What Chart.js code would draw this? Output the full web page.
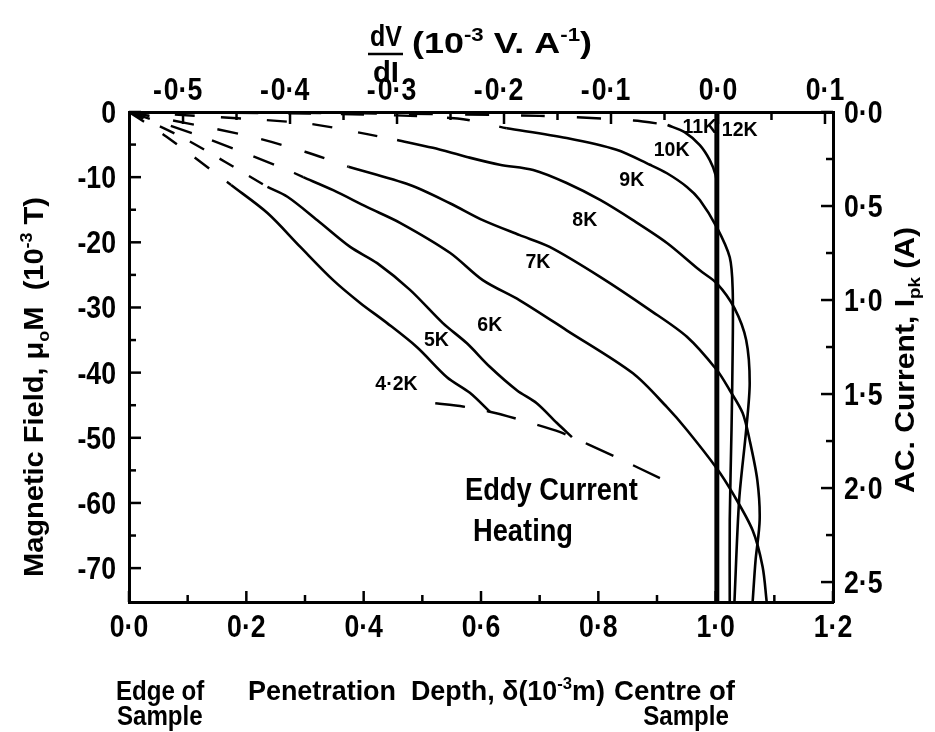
<!DOCTYPE html>
<html><head><meta charset="utf-8">
<script src="https://cdn.jsdelivr.net/npm/chart.js@4"></script>
<style>html,body{margin:0;padding:0;background:#fff}</style>
</head><body>
<canvas id="c" width="935" height="732"></canvas>
<script>
// ---------- tick values ----------
const X_TICKS = [0, 0.2, 0.4, 0.6, 0.8, 1.0, 1.2];
const X_MINOR = [0.1, 0.3, 0.5, 0.7, 0.9, 1.1];
const TOP_TICKS = [-0.5, -0.4, -0.3, -0.2, -0.1, 0.0, 0.1];
const TOP_MINOR = [-0.45, -0.35, -0.25, -0.15, -0.05, 0.05];
const Y_TICKS = [0, -10, -20, -30, -40, -50, -60, -70];
const Y_MINOR = [-5, -15, -25, -35, -45, -55, -65];
const R_TICKS = [0, 0.5, 1.0, 1.5, 2.0, 2.5];
const R_MINOR = [0.25, 0.75, 1.25, 1.75, 2.25];

// ---------- curves: [penetration depth (1e-3 m), field (1e-3 T)] ----------
const DASH_42 = [[0,0],[0.064,-3.8],[0.174,-11.2]];
const SOLID_42 = [[0.174,-11.2],[0.236,-15.5],[0.292,-20.7],[0.348,-25.8],[0.394,-29.3],[0.440,-32.4],[0.491,-36.1],[0.542,-40.7],[0.581,-43.1],[0.615,-46.0]];
const DASH_5 = [[0,0],[0.093,-4.0],[0.236,-11.5]];
const SOLID_5 = [[0.236,-11.5],[0.270,-13.0],[0.321,-16.6],[0.377,-20.7],[0.423,-23.2],[0.479,-27.3],[0.535,-32.4],[0.576,-35.5],[0.615,-39.1],[0.661,-42.7],[0.695,-44.7],[0.729,-47.7],[0.755,-49.9]];
const DASH_6 = [[0,0],[0.125,-3.8],[0.266,-8.75],[0.297,-10.0]];
const SOLID_6 = [[0.297,-10.0],[0.348,-12.0],[0.406,-14.6],[0.462,-17.0],[0.547,-21.6],[0.603,-25.8],[0.666,-28.9],[0.746,-33.5],[0.859,-40.1],[0.917,-45.3],[0.951,-48.8],[1.002,-54.7],[1.029,-58.5],[1.063,-64.2],[1.080,-69.8],[1.087,-75.2]];
const DASH_7 = [[0,0],[0.195,-3.5],[0.300,-6.1],[0.374,-8.4]];
const SOLID_7 = [[0.374,-8.4],[0.479,-11.2],[0.547,-14.0],[0.603,-16.6],[0.666,-18.9],[0.717,-20.7],[0.803,-25.3],[0.888,-30.4],[0.951,-34.5],[1.002,-39.6],[1.024,-42.7],[1.046,-46.2],[1.058,-50.4],[1.071,-56.5],[1.075,-62.6],[1.068,-68.8],[1.063,-75.2]];
const DASH_8 = [[0,0],[0.297,-1.7],[0.406,-3.4],[0.457,-4.3]];
const SOLID_8 = [[0.457,-4.3],[0.518,-5.5],[0.576,-6.9],[0.632,-8.1],[0.689,-8.9],[0.746,-10.9],[0.803,-13.5],[0.859,-16.6],[0.917,-20.1],[0.973,-24.3],[1.002,-26.3],[1.032,-30.1],[1.052,-35.0],[1.058,-41.6],[1.052,-48.8],[1.040,-59.6],[1.032,-75.2]];
const DASH_9 = [[0,0],[0.35,-0.3],[0.56,-1.0],[0.644,-2.5]];
const SOLID_9 = [[0.644,-2.5],[0.746,-4.0],[0.831,-5.8],[0.888,-8.1],[0.917,-9.4],[0.951,-11.5],[0.973,-13.5],[1.002,-17.7],[1.024,-22.3],[1.029,-27.3],[1.029,-36.5],[1.027,-48.8],[1.024,-62.6],[1.024,-75.2]];
const DASH_10 = [[0,0],[0.4,-0.2],[0.7,-0.6],[0.86,-1.3],[0.918,-2.0]];
const SOLID_10 = [[0.918,-2.0],[0.947,-3.1],[0.973,-5.1],[0.990,-7.4],[1.000,-9.7],[1.003,-12.0],[1.003,-75.2]];
const SOLID_11 = [[1.000,0],[1.000,-75.2]];
const SOLID_12 = [[1.004,0],[1.004,-75.2]];
const EDDY_LIMIT = [[0.522,-44.7],[0.569,-45.2],[0.615,-46.0],[0.646,-46.7],[0.734,-49.1],[0.831,-53.0],[0.905,-56.2]];

// ---------- curve labels ----------
const CURVE_NAMES = ['4·2K','5K','6K','7K','8K','9K','10K','11K','12K'];
const CURVE_NAME_X = [0.456,0.524,0.615,0.697,0.777,0.857,0.925,0.973,1.041];
const CURVE_NAME_Y = [-41.4,-34.7,-32.4,-22.7,-16.3,-10.1,-5.5,-2.0,-2.5];

const FAM = "'Liberation Sans', Arial, sans-serif";
const dot = s => s.replace('.', '·');
const pts = a => a.map(p => ({x: p[0], y: p[1]}));
const solid = a => ({data: pts(a), showLine: true, pointRadius: 0, borderColor: '#000', borderWidth: 2.6, tension: 0.3, fill: false});
const dashed = (a, d) => Object.assign(solid(a), {borderDash: d || [20, 21], borderWidth: 2.4});

const datasets = [
  dashed(DASH_42, [18, 22]), solid(SOLID_42), dashed(DASH_5, [16, 18]), solid(SOLID_5),
  dashed(DASH_6, [22, 22]), solid(SOLID_6), dashed(DASH_7, [21, 24]), solid(SOLID_7),
  dashed(DASH_8, [20, 26]), solid(SOLID_8), dashed(DASH_9, [23, 30]), solid(SOLID_9),
  dashed(DASH_10, [24, 32]), solid(SOLID_10), solid(SOLID_11), solid(SOLID_12),
  Object.assign(dashed(EDDY_LIMIT, [30, 22.2]), {tension: 0.2})
];

// text helper: parts = [[text, mode]] mode 0 normal, 1 superscript, -1 subscript
function txt(ctx, parts, x, y, o) {
  if (typeof parts === 'string') parts = [[parts, 0]];
  const size = o.size;
  ctx.save();
  ctx.translate(x, y); ctx.rotate(o.rot || 0);
  ctx.fillStyle = '#000'; ctx.textAlign = 'left'; ctx.textBaseline = 'alphabetic';
  const f = s => `bold ${s}px ${FAM}`;
  const ws = parts.map(([t, m]) => { ctx.font = f(m ? size * 0.62 : size); return ctx.measureText(t).width; });
  const tot = ws.reduce((a, b) => a + b, 0);
  const sx = o.width ? o.width / tot : (o.sx || 1);
  ctx.scale(sx, 1);
  let cx = o.align === 'center' ? -tot / 2 : o.align === 'right' ? -tot : 0;
  parts.forEach(([t, m], i) => {
    ctx.font = f(m ? size * 0.62 : size);
    ctx.fillText(t, cx, m === 1 ? -size * 0.40 : m === -1 ? size * 0.2 : 0);
    cx += ws[i];
  });
  ctx.restore();
}

const decor = {
  id: 'decor',
  afterDraw(chart) {
    const {ctx, chartArea: a, scales} = chart;
    const {x, x2, y, y2} = scales;
    ctx.save();
    ctx.strokeStyle = '#000'; ctx.lineWidth = 2.5;
    const seg = (p, q, r, s) => { ctx.beginPath(); ctx.moveTo(p, q); ctx.lineTo(r, s); ctx.stroke(); };
    X_TICKS.forEach(v => { const p = x.getPixelForValue(v); seg(p, a.bottom, p, a.bottom - 11); });
    X_MINOR.forEach(v => { const p = x.getPixelForValue(v); seg(p, a.bottom, p, a.bottom - 7); });
    TOP_TICKS.forEach(v => { const p = x2.getPixelForValue(v); seg(p, a.top, p, a.top + 12); });
    TOP_MINOR.forEach(v => { const p = x2.getPixelForValue(v); seg(p, a.top, p, a.top + 8); });
    Y_TICKS.forEach(v => { const p = y.getPixelForValue(v); seg(a.left, p, a.left + 12, p); });
    Y_MINOR.forEach(v => { const p = y.getPixelForValue(v); seg(a.left, p, a.left + 7, p); });
    R_TICKS.forEach(v => { const p = y2.getPixelForValue(v); seg(a.right, p, a.right - 12, p); });
    R_MINOR.forEach(v => { const p = y2.getPixelForValue(v); seg(a.right, p, a.right - 7, p); });

    // tick labels
    const TS = 31, SX = 0.86;
    X_TICKS.forEach(v => txt(ctx, dot(v.toFixed(1)), x.getPixelForValue(v), a.bottom + 35, {size: TS, sx: SX, align: 'center'}));
    TOP_TICKS.forEach(v => {
      const p = x2.getPixelForValue(v);
      const num = dot(Math.abs(v).toFixed(1));
      ctx.font = `bold ${TS}px ${FAM}`;
      const w = ctx.measureText(num).width * SX;
      txt(ctx, num, p, a.top - 12, {size: TS, sx: SX, align: 'center'});
      if (v < -1e-9) txt(ctx, '-', p - w / 2 - 2, a.top - 12, {size: TS, sx: SX, align: 'right'});
    });
    Y_TICKS.forEach(v => txt(ctx, String(v), a.left - 13, y.getPixelForValue(v) + 11, {size: TS, sx: SX, align: 'right'}));
    R_TICKS.forEach(v => txt(ctx, dot(v.toFixed(1)), a.right + 11, y2.getPixelForValue(v) + 11, {size: TS, sx: SX, align: 'left'}));

    // curve labels
    CURVE_NAMES.forEach((t, i) => txt(ctx, t, x.getPixelForValue(CURVE_NAME_X[i]), y.getPixelForValue(CURVE_NAME_Y[i]) + 8, {size: 21, sx: 0.93, align: 'center'}));
    txt(ctx, 'Eddy Current', 465, 500, {size: 31, sx: 0.88, align: 'left'});
    txt(ctx, 'Heating', 473, 541, {size: 31, sx: 0.88, align: 'left'});

    // axis titles
    const TT = 28, TSX = 0.86;
    txt(ctx, [['Magnetic Field, μ', 0], ['o', -1], ['M  (10', 0], ['-3', 1], [' T)', 0]], 43, 387, {size: TT, width: 380, align: 'center', rot: -Math.PI / 2});
    txt(ctx, [['AC. Current, I', 0], ['pk', -1], [' (A)', 0]], 914, 360, {size: TT, width: 266, align: 'center', rot: -Math.PI / 2});
    txt(ctx, [['Penetration  Depth, δ(10', 0], ['-3', 1], ['m)', 0]], 248, 700, {size: TT, width: 357, align: 'left'});
    txt(ctx, 'Edge of', 116, 700, {size: TT, sx: TSX, align: 'left'});
    txt(ctx, 'Sample', 117, 725, {size: TT, sx: TSX, align: 'left'});
    txt(ctx, 'Centre of', 614, 700, {size: TT, width: 121, align: 'left'});
    txt(ctx, 'Sample', 686, 725, {size: TT, sx: TSX, align: 'center'});
    // top fraction title
    txt(ctx, 'dV', 386, 46, {size: 29, width: 32, align: 'center'});
    ctx.lineWidth = 2.5; seg(368, 54, 403, 54);
    txt(ctx, 'dI', 386, 82, {size: 29, width: 26, align: 'center'});
    txt(ctx, [['(10', 0], ['-3', 1], [' V. A', 0], ['-1', 1], [')', 0]], 412, 53, {size: 29, width: 180, align: 'left'});
    ctx.restore();
  }
};

const axisBase = (extra) => Object.assign({
  type: 'linear',
  grid: {display: false, drawTicks: false},
  border: {display: true, color: '#000', width: 3},
  ticks: {display: false}
}, extra);

new Chart(document.getElementById('c'), {
  type: 'scatter',
  data: {datasets},
  options: {
    responsive: false, animation: false,
    layout: {padding: 0},
    plugins: {legend: {display: false}, tooltip: {enabled: false}},
    scales: {
      x: axisBase({position: 'bottom', min: 0, max: 1.2,
        afterBuildTicks: s => { s.ticks = X_TICKS.map(v => ({value: v})); },
        afterFit: s => { s.height = 130; }}),
      x2: axisBase({position: 'top', min: -0.5505, max: 0.1075,
        afterBuildTicks: s => { s.ticks = TOP_TICKS.map(v => ({value: v})); },
        afterFit: s => { s.height = 112; }}),
      y: axisBase({position: 'left', min: -75.2, max: 0,
        afterBuildTicks: s => { s.ticks = Y_TICKS.map(v => ({value: v})); },
        afterFit: s => { s.width = 129; }}),
      y2: axisBase({position: 'right', min: 0, max: 2.606, reverse: true,
        afterBuildTicks: s => { s.ticks = R_TICKS.map(v => ({value: v})); },
        afterFit: s => { s.width = 102; }})
    }
  },
  plugins: [decor]
});
</script>
</body></html>
